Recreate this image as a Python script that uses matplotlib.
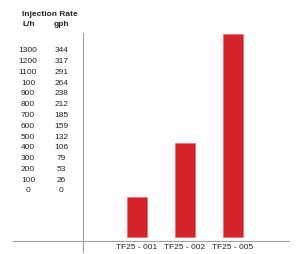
import matplotlib.pyplot as plt
from matplotlib.lines import Line2D

# data
models = ["TF25 - 001", "TF25 - 002", "TF25 - 005"]
rates_lh = [257, 601, 1300]  # bar heights
lh_rows = [1300, 1200, 1100, 1000, 900, 800, 700, 600, 500, 400, 300, 200, 100, 0]
lh_labels = ["1300", "1200", "1100", "100", "900", "800", "700", "600", "500",
             "400", "300", "200", "100", "0"]
gph_labels = ["344", "317", "291", "264", "238", "212", "185", "159", "132",
              "106", "79", "53", "26", "0"]

W, H = 297, 254
plt.rcParams['font.family'] = ['Liberation Sans', 'DejaVu Sans']
fig = plt.figure(figsize=(W / 100, H / 100), dpi=100)

def fx(px):
    return px / W

def fy(py):
    return (H - py) / H

red = "#d2232a"
gray = "#a0a0a0"
txt = "#222222"

# bar axes
ax = fig.add_axes([fx(83), fy(241), fx(289) - fx(83), fy(33) - fy(241)])
k = 202.7 / 1300
ax.set_ylim(-4 / k, 204 / k)
ax.set_xlim(-54 / 48, 152 / 48)
ax.bar(range(len(models)), rates_lh, width=0.4, color=red, edgecolor="#e86a6f", linewidth=0.5)
ax.set_xticks(range(len(models)))
ax.set_xticklabels(models, fontsize=6, color=txt)
ax.tick_params(axis='x', length=0, pad=2.5)
ax.set_yticks([])
for s in ax.spines.values():
    s.set_visible(False)

# rate table axes
lab = fig.add_axes([fx(13), fy(191), fx(83) - fx(13), fy(50.7) - fy(191)])
lab.set_ylim(0, 1300)
lab.set_xlim(0, 1)
lab.axis('off')
for y, a, b in zip(lh_rows, lh_labels, gph_labels):
    lab.text(0.214, y, a, ha='center', va='center', fontsize=6, color=txt)
    lab.text(0.69, y, b, ha='center', va='center', fontsize=6, color=txt)

fig.text(fx(50), fy(14.5), "Injection Rate", ha='center', va='center', fontsize=6,
         fontweight='bold', color=txt)
fig.text(fx(29), fy(24), "L/h", ha='center', va='center', fontsize=6,
         fontweight='bold', color=txt)
fig.text(fx(61.5), fy(24), "gph", ha='center', va='center', fontsize=6,
         fontweight='bold', color=txt)

fig.add_artist(Line2D([fx(13), fx(289)], [fy(241), fy(241)], color=gray, lw=0.8))
fig.add_artist(Line2D([fx(83), fx(83)], [fy(33), fy(252)], color=gray, lw=0.8))

fig.savefig("out.png", dpi=100)
